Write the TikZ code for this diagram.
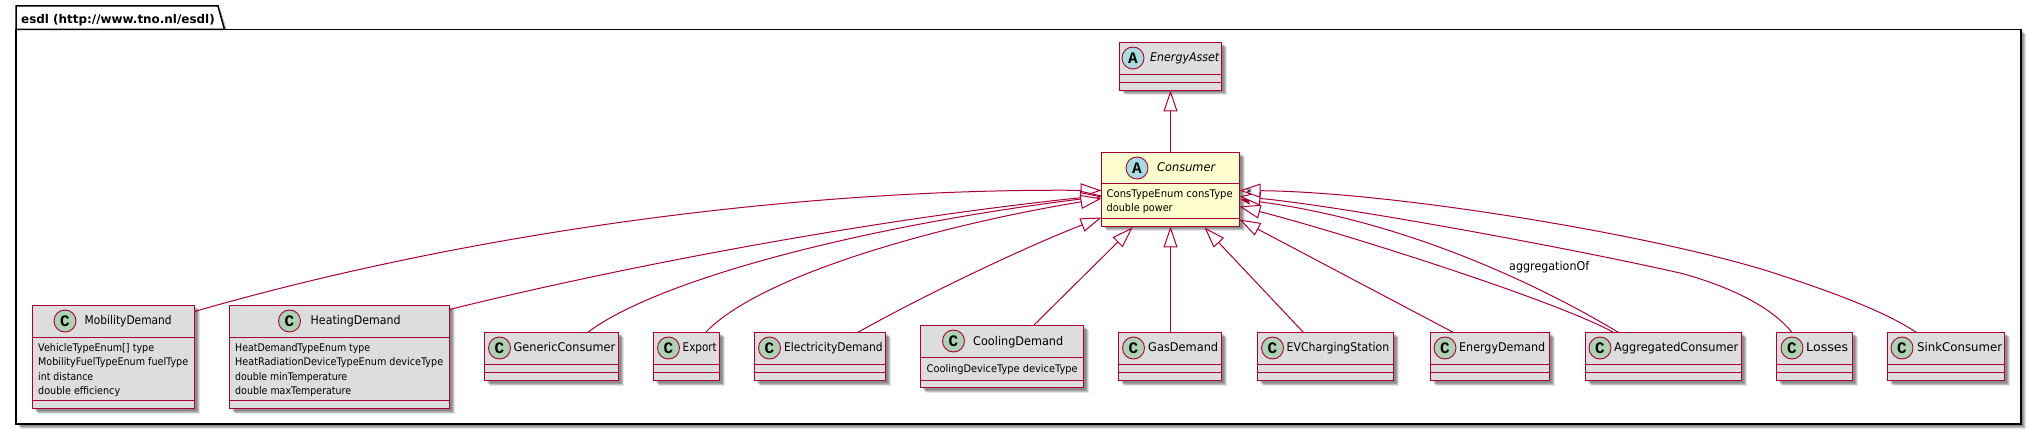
\documentclass[tikz,border=0pt]{standalone}
\usepackage{fontspec}
\setmainfont{DejaVu Sans}
\newfontfamily\circfont{Liberation Mono}
\usetikzlibrary{calc,shadows,arrows.meta}
\definecolor{umlred}{HTML}{A80036}
\definecolor{umlgrey}{HTML}{DDDDDD}
\definecolor{umlyellow}{HTML}{FEFECE}
\definecolor{circA}{HTML}{A9DCDF}
\definecolor{circC}{HTML}{ADD1B2}
\tikzset{
  softshadow/.style={
    general shadow={fill=black,opacity=.12,shadow xshift=2pt,shadow yshift=-2pt},
    general shadow={fill=black,opacity=.16,shadow xshift=3pt,shadow yshift=-3pt},
    general shadow={fill=black,opacity=.16,shadow xshift=4pt,shadow yshift=-4pt},
    general shadow={fill=black,opacity=.10,shadow xshift=5pt,shadow yshift=-5pt}},
  cbox/.style={draw=umlred,line width=1.6pt,inner sep=0pt,outer sep=0pt,anchor=north west,softshadow},
  sepline/.style={draw=umlred,line width=1.2pt},
  edge/.style={draw=umlred,line width=1pt},
  gen/.style={edge,-{Triangle[open,length=21pt,width=14pt,fill=white]}},
  assoc/.style={edge,-{Stealth[length=10pt,width=8pt,inset=2pt]}},
  circ/.style={circle,draw=umlred,line width=.9pt,minimum size=22pt,inner sep=0pt,font=\circfont\bfseries\fontsize{16}{16}\selectfont},
  nametext/.style={inner sep=0pt,font=\fontsize{12}{14}\selectfont,anchor=base west},
  abstext/.style={inner sep=0pt,font=\itshape\fontsize{12}{14}\selectfont,anchor=base west},
  fieldtext/.style={inner sep=0pt,font=\fontsize{10.5}{12}\selectfont,anchor=base west},
  pkgtext/.style={inner sep=0pt,font=\bfseries\fontsize{12}{14}\selectfont,anchor=base west},
}
% id x1 y1 x2 y2 sep1 sep2 fill
\newcommand{\classbox}[8]{%
  \node[cbox,fill=#8,minimum width={(#4-#2)*1pt},minimum height={(#5-#3)*1pt}] (#1) at (#2,#3) {};
  \draw[sepline] ($(#1.north west)+(0,#6-#3)$) -- ($(#1.north east)+(0,#6-#3)$);
  \draw[sepline] ($(#1.north west)+(0,#7-#3)$) -- ($(#1.north east)+(0,#7-#3)$);
}
\newcommand{\fitw}[2]{\resizebox{#1pt}{\height}{#2}}
\begin{document}
\begin{tikzpicture}[x=1pt,y=-1pt]
\useasboundingbox (0,0) rectangle (2027,430);
\fill[white] (0,0) rectangle (2027,430);
% package
\fill[black,opacity=.25] (220,9) -- (228,33) -- (220,33) -- cycle;
\node[draw=black,fill=white,line width=1.5pt,inner sep=0pt,outer sep=0pt,anchor=north west,softshadow,minimum width=2005pt,minimum height=394.5pt] (pkg) at (16,29.5) {};
\filldraw[draw=black,fill=white,line width=1.5pt] ($(pkg.north west)$) -- ($(pkg.north west)+(0,-23.5)$) -- ($(pkg.north west)+(202,-23.5)$) -- ($(pkg.north west)+(208.5,0)$) -- cycle;
\node[pkgtext] (pkgtitle) at (21,24) {\fitw{193.5}{esdl (http://www.tno.nl/esdl)}};
% classes
\classbox{asset}{1119.5}{42.5}{1221.5}{90.5}{74.5}{82.5}{umlgrey}
\classbox{cons}{1101.5}{152.5}{1239.5}{226.5}{183.5}{218.5}{umlyellow}
\classbox{mob}{32.5}{305.5}{194.5}{408.5}{337.5}{400.5}{umlgrey}
\classbox{heat}{229.5}{305.5}{449.5}{408.5}{337.5}{400.5}{umlgrey}
\classbox{gener}{484.5}{332.5}{618.5}{380.5}{364.5}{372.5}{umlgrey}
\classbox{expo}{653.5}{332.5}{719.5}{380.5}{364.5}{372.5}{umlgrey}
\classbox{elec}{754.5}{332.5}{885.5}{380.5}{364.5}{372.5}{umlgrey}
\classbox{cool}{920.5}{325.5}{1083.5}{387.5}{357.5}{380.5}{umlgrey}
\classbox{gas}{1118.5}{332.5}{1221.5}{380.5}{364.5}{372.5}{umlgrey}
\classbox{ev}{1257.5}{332.5}{1393.5}{380.5}{364.5}{372.5}{umlgrey}
\classbox{ener}{1430.5}{332.5}{1549.5}{380.5}{364.5}{372.5}{umlgrey}
\classbox{aggr}{1585.5}{332.5}{1741.5}{380.5}{364.5}{372.5}{umlgrey}
\classbox{loss}{1776.5}{332.5}{1852.5}{380.5}{364.5}{372.5}{umlgrey}
\classbox{sink}{1887.5}{332.5}{2004.5}{380.5}{364.5}{372.5}{umlgrey}
% circles
\node[circ,fill=circA] (casset) at (1133,58) {A};
\node[circ,fill=circA] (ccons) at (1137,168) {A};
\node[circ,fill=circC] (cmob) at (65,321) {C};
\node[circ,fill=circC] (cheat) at (289.5,321) {C};
\node[circ,fill=circC] (cgener) at (499.5,348) {C};
\node[circ,fill=circC] (cexpo) at (668.5,348) {C};
\node[circ,fill=circC] (celec) at (769.5,348) {C};
\node[circ,fill=circC] (ccool) at (953.5,341) {C};
\node[circ,fill=circC] (cgas) at (1133.5,348) {C};
\node[circ,fill=circC] (cev) at (1272.5,348) {C};
\node[circ,fill=circC] (cener) at (1445,348) {C};
\node[circ,fill=circC] (caggr) at (1600,348) {C};
\node[circ,fill=circC] (closs) at (1792,348) {C};
\node[circ,fill=circC] (csink) at (1902,348) {C};
% names
\node[abstext] (tasset) at (1150,62) {\fitw{69}{EnergyAsset}};
\node[abstext] (tcons) at (1157,172) {\fitw{58}{Consumer}};
\node[nametext] (tmob) at (84.5,325) {\fitw{87}{MobilityDemand}};
\node[nametext] (theat) at (310.5,325) {\fitw{90}{HeatingDemand}};
\node[nametext] (tgener) at (513.5,352) {\fitw{101.5}{GenericConsumer}};
\node[nametext] (texpo) at (682.5,352) {\fitw{34}{Export}};
\node[nametext] (telec) at (784,352) {\fitw{98.5}{ElectricityDemand}};
\node[nametext] (tcool) at (973,345) {\fitw{90}{CoolingDemand}};
\node[nametext] (tgas) at (1148,352) {\fitw{70}{GasDemand}};
\node[nametext] (tev) at (1286.5,352) {\fitw{102.5}{EVChargingStation}};
\node[nametext] (tener) at (1459,352) {\fitw{86}{EnergyDemand}};
\node[nametext] (taggr) at (1614,352) {\fitw{124}{AggregatedConsumer}};
\node[nametext] (tloss) at (1806,352) {\fitw{42}{Losses}};
\node[nametext] (tsink) at (1917,352) {\fitw{85}{SinkConsumer}};
% fields
\node[fieldtext] at (1106.5,198) {\fitw{126}{ConsTypeEnum consType}};
\node[fieldtext] at (1106.5,212) {\fitw{66}{double power}};
\node[fieldtext] at (38,352) {\fitw{116}{VehicleTypeEnum[] type}};
\node[fieldtext] at (38,366) {\fitw{150}{MobilityFuelTypeEnum fuelType}};
\node[fieldtext] at (38,380) {\fitw{55}{int distance}};
\node[fieldtext] at (38,394) {\fitw{82}{double efficiency}};
\node[fieldtext] at (235,352) {\fitw{135}{HeatDemandTypeEnum type}};
\node[fieldtext] at (235,366) {\fitw{208}{HeatRadiationDeviceTypeEnum deviceType}};
\node[fieldtext] at (235,380) {\fitw{112}{double minTemperature}};
\node[fieldtext] at (235,394) {\fitw{116}{double maxTemperature}};
\node[fieldtext] at (926.5,373) {\fitw{151}{CoolingDeviceType deviceType}};
% connectors
\draw[gen] (cons.north) -- (asset.south);
\draw[gen] ($(mob.north east)+(0,6)$) .. controls (470,232) and (800,188) .. ($(cons.north west)+(0,38)$);
\draw[gen] ($(heat.north east)+(0,4)$) .. controls (600,272) and (850,222) .. ($(cons.north west)+(0,43)$);
\draw[gen] ($(gener.north west)+(103,0)$) .. controls (660,278) and (870,225) .. ($(cons.north west)+(0,44)$);
\draw[gen] ($(expo.north west)+(52,0)$) .. controls (760,275) and (940,225) .. ($(cons.north west)+(0,46)$);
\draw[gen] ($(elec.north west)+(103,0)$) .. controls (930,292) and (1030,245) .. ($(cons.north west)+(0,65)$);
\draw[gen] ($(cool.north west)+(113,0)$) -- ($(cons.south west)+(31,1)$);
\draw[gen] ($(gas.north)+(.5,0)$) -- (cons.south);
\draw[gen] ($(ev.north west)+(46,0)$) -- ($(cons.south east)+(-35,1)$);
\draw[gen] ($(ener.north west)+(23,0)$) -- ($(cons.north east)+(0,67)$);
\draw[gen] ($(aggr.north west)+(28,0)$) .. controls (1560,302) and (1340,232) .. ($(cons.north east)+(0,54)$);
\draw[assoc] ($(aggr.north west)+(33,0)$) .. controls (1540,285) and (1400,218) .. ($(cons.north east)+(1,47)$);
\draw[gen] ($(loss.north west)+(15.5,0)$) .. controls (1770,305) and (1725,285) .. (1680,273) .. controls (1560,246) and (1340,206) .. ($(cons.north east)+(0,44)$);
\draw[gen] ($(sink.north west)+(29,0)$) .. controls (1890,315) and (1850,298) .. (1780,275) .. controls (1670,238) and (1400,192) .. ($(cons.north east)+(0,38)$);
\node[nametext] (lagg) at (1509,271) {\fitw{80}{aggregationOf}};
\node[inner sep=0pt,font=\fontsize{12}{14}\selectfont] (lstar) at (1249,193) {*};
\end{tikzpicture}
\end{document}
